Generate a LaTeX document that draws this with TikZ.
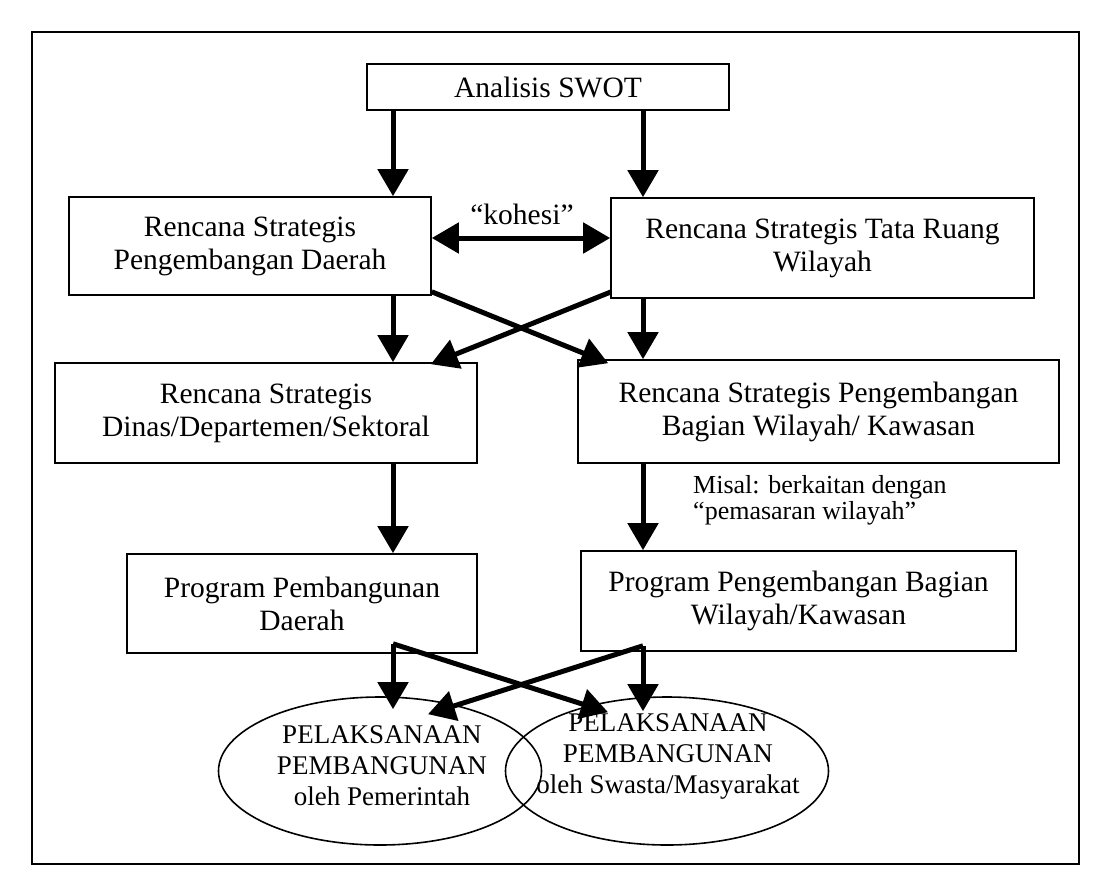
\documentclass[tikz,border=0pt]{standalone}
\usepackage{fontspec}
\setmainfont{Liberation Serif}
\usetikzlibrary{arrows.meta,shapes.geometric,calc}
\tikzset{
  box/.style={draw,line width=1.6pt,inner sep=0pt,align=center,font=\fontsize{29.5}{33}\selectfont},
  oval/.style={draw,ellipse,line width=1.6pt,inner sep=0pt,minimum width=323pt,minimum height=148pt},
  ovaltext/.style={align=center,inner sep=0pt,font=\fontsize{27}{31}\selectfont},
  note/.style={align=left,inner sep=0pt,font=\fontsize{26}{26}\selectfont},
  flow/.style={line width=5pt,-{Triangle[width=30pt,length=27pt]}},
  both/.style={line width=5pt,{Triangle[width=30pt,length=27pt]}-{Triangle[width=30pt,length=27pt]}}
}

\begin{document}
\begin{tikzpicture}[x=1pt,y=-1pt]
  \useasboundingbox (0,0) rectangle (1106,895);
  \draw[line width=1.6pt] (32,32) rectangle (1079,864);

  \coordinate (lcol) at (393,0);
  \coordinate (rcol) at (643,0);
  \coordinate (koh) at (0,238);

  \node[box,minimum width=362pt,minimum height=46pt] (swot) at (548,87) {Analisis SWOT};
  \node[box,minimum width=362pt,minimum height=98pt] (daerah) at (250,246) {Rencana Strategis\\Pengembangan Daerah};
  \node[box,minimum width=423pt,minimum height=100pt] (taru) at (822.5,248) {Rencana Strategis Tata Ruang\\Wilayah};
  \node[box,minimum width=422pt,minimum height=100pt] (dinas) at (266,413) {Rencana Strategis\\Dinas/Departemen/Sektoral};
  \node[box,minimum width=481pt,minimum height=103pt] (bagian) at (818.5,411.5) {Rencana Strategis Pengembangan\\Bagian Wilayah/ Kawasan};
  \node[box,minimum width=350pt,minimum height=99pt] (progd) at (302,603.5) {Program Pembangunan\\Daerah};
  \node[box,minimum width=435pt,minimum height=100pt] (progb) at (798.5,601) {Program Pengembangan Bagian\\Wilayah/Kawasan};

  \node[oval] (epem) at (380,771) {};
  \node[oval] (eswa) at (667,771) {};
  \node[ovaltext] (tpem) at (382,766) {PELAKSANAAN\\PEMBANGUNAN\\oleh Pemerintah};
  \node[ovaltext] (tswa) at (668,756) {PELAKSANAAN\\PEMBANGUNAN\\oleh Swasta/Masyarakat};

  \node[inner sep=0pt,font=\fontsize{29.5}{33}\selectfont] (kohlbl) at (522,214) {“kohesi”};
  \node[note,anchor=west] (misal) at (693,500) {Misal: berkaitan dengan\\“pemasaran wilayah”};

  % straight down
  \foreach \from/\to/\col in {swot/daerah/lcol, swot/taru/rcol, daerah/dinas/lcol, taru/bagian/rcol, dinas/progd/lcol, bagian/progb/rcol}
    \draw[flow] (\from.south -| \col) -- (\to.north -| \col);

  \draw[both] (daerah.east |- koh) -- (taru.west |- koh);

  % crossing
  \draw[flow] ($(daerah.south east)+(0,-4)$) -- ($(bagian.north west)+(31,4)$);
  \draw[flow] ($(taru.south west)+(1,-7)$) -- ($(dinas.north east)+(-47,2)$);

  \coordinate (pd) at ($(progd.south -| lcol)+(0,-10)$);
  \coordinate (pb) at ($(progb.south -| rcol)+(0,-6)$);
  \draw[flow] (pd) -- ($(epem.north)+(13,13)$);
  \draw[flow] (pd) -- ($(eswa.north)+(-59,16)$);
  \draw[flow] (pb) -- ($(epem.north)+(48,18)$);
  \draw[flow] (pb) -- ($(eswa.north)+(-24,15)$);
\end{tikzpicture}
\end{document}
